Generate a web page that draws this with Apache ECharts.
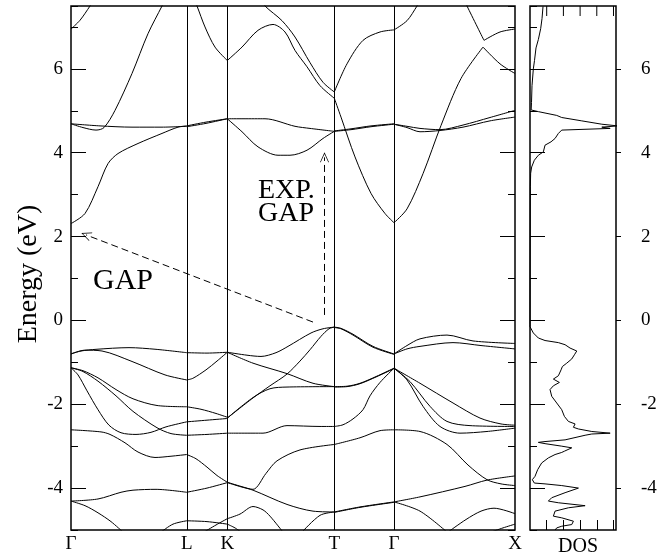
<!DOCTYPE html>
<html>
<head>
<meta charset="utf-8">
<script src="https://cdn.jsdelivr.net/npm/echarts@6/dist/echarts.min.js"></script>
<style>
html, body { margin: 0; padding: 0; background: #fff; }
#chart { width: 668px; height: 557px; }
</style>
</head>
<body>
<div id="chart"></div>
<script>
// symmetry points along the k-path
const symK = [0, 1.157, 1.563, 2.633, 3.23, 4.44];
const symNames = ['Γ', 'L', 'K', 'T', 'Γ', 'X'];
const energyTicks = [-4, -2, 0, 2, 4, 6];
const dosTicks = [1, 2, 3, 4, 5];

// bands, one array of curves per path segment, [k, E(eV)]
const bandsGL = [
    [[0, 6.95], [0.09, 7.16], [0.19, 7.5], [0.22, 7.62]],
    [[0, 2.31], [0.14, 2.55], [0.27, 3.19], [0.37, 3.74], [0.47, 3.98], [0.67, 4.22], [0.91, 4.46], [1.07, 4.61], [1.157, 4.64]],
    [[0, 4.69], [0.29, 4.64], [0.61, 4.61], [0.91, 4.61], [1.157, 4.63]],
    [[0, 4.69], [0.12, 4.6], [0.25, 4.54], [0.33, 4.6], [0.44, 5.01], [0.61, 5.89], [0.77, 6.84], [0.91, 7.5], [0.94, 7.65]],
    [[0, -0.8], [0.1, -0.73], [0.25, -0.69], [0.58, -0.65], [0.85, -0.69], [1.157, -0.77]],
    [[0, -0.8], [0.14, -0.71], [0.31, -0.73], [0.61, -0.98], [0.94, -1.3], [1.157, -1.42]],
    [[0, -1.13], [0.12, -1.2], [0.27, -1.37], [0.45, -1.65], [0.62, -1.87], [0.86, -2.03], [1.157, -2.06]],
    [[0, -1.13], [0.12, -1.22], [0.27, -1.45], [0.45, -1.8], [0.62, -2.17], [0.86, -2.56], [1.0, -2.7], [1.157, -2.74]],
    [[0, -1.13], [0.07, -1.3], [0.16, -1.68], [0.27, -2.13], [0.38, -2.5], [0.5, -2.68], [0.65, -2.72], [0.8, -2.67], [0.95, -2.54], [1.157, -2.42]],
    [[0, -2.61], [0.3, -2.66], [0.39, -2.72], [0.54, -2.92], [0.67, -3.14], [0.84, -3.27], [1.0, -3.24], [1.157, -3.2]],
    [[0, -4.31], [0.27, -4.26], [0.5, -4.1], [0.62, -4.05], [0.85, -4.03], [1.157, -4.1]],
    [[0, -4.31], [0.14, -4.42], [0.27, -4.59], [0.4, -4.8], [0.52, -5.05]],
    [[0.9, -5.05], [1.02, -4.86], [1.157, -4.78]]
];

const bandsLK = [
    [[1.157, 4.64], [1.35, 4.73], [1.563, 4.81]],
    [[1.157, 4.62], [1.35, 4.7], [1.563, 4.81]],
    [[1.24, 7.6], [1.26, 7.5], [1.34, 7.0], [1.44, 6.52], [1.563, 6.2]],
    [[1.157, -0.77], [1.36, -0.78], [1.563, -0.76]],
    [[1.157, -1.42], [1.22, -1.38], [1.35, -1.18], [1.46, -0.97], [1.563, -0.76]],
    [[1.157, -2.06], [1.3, -2.12], [1.45, -2.22], [1.563, -2.31]],
    [[1.157, -2.42], [1.36, -2.38], [1.563, -2.34]],
    [[1.157, -2.74], [1.36, -2.72], [1.563, -2.69]],
    [[1.157, -3.2], [1.25, -3.3], [1.36, -3.5], [1.46, -3.7], [1.563, -3.86]],
    [[1.157, -4.1], [1.36, -4.0], [1.563, -3.87]],
    [[1.157, -4.78], [1.36, -4.8], [1.563, -4.86]],
    [[1.33, -5.05], [1.45, -4.88], [1.563, -4.73]]
];

const bandsKT = [
    [[1.563, 6.2], [1.71, 6.52], [1.87, 6.92], [2.02, 7.06], [2.14, 6.88], [2.24, 6.44], [2.36, 6.05], [2.49, 5.6], [2.633, 5.3]],
    [[1.92, 7.62], [1.94, 7.5], [2.11, 7.15], [2.24, 6.76], [2.39, 6.15], [2.52, 5.68], [2.633, 5.45]],
    [[1.563, 4.81], [1.94, 4.81], [2.24, 4.63], [2.39, 4.58], [2.633, 4.51]],
    [[1.563, 4.81], [1.71, 4.5], [1.87, 4.14], [2.07, 3.94], [2.19, 3.94], [2.36, 4.06], [2.52, 4.34], [2.633, 4.51]],
    [[1.563, -0.76], [1.76, -0.83], [1.9, -0.86], [2.05, -0.77], [2.17, -0.62], [2.4, -0.3], [2.52, -0.2], [2.633, -0.16]],
    [[1.563, -0.76], [1.82, -1.02], [2.16, -1.27], [2.42, -1.5], [2.633, -1.58]],
    [[1.563, -2.33], [1.82, -1.85], [1.99, -1.56], [2.16, -1.28], [2.29, -0.97], [2.39, -0.7], [2.5, -0.38], [2.58, -0.2], [2.633, -0.16]],
    [[1.563, -2.33], [1.82, -1.84], [1.99, -1.63], [2.16, -1.59], [2.633, -1.58]],
    [[1.563, -2.69], [1.92, -2.69], [2.16, -2.51], [2.49, -2.53], [2.633, -2.53]],
    [[1.563, -3.86], [1.7, -3.96], [1.82, -4.03], [1.95, -3.65], [2.06, -3.35], [2.29, -3.09], [2.633, -2.96]],
    [[1.563, -3.87], [1.7, -3.97], [1.82, -4.05], [2.16, -4.39], [2.42, -4.55], [2.633, -4.57]],
    [[1.563, -4.73], [1.69, -4.62], [1.82, -4.44], [1.92, -4.52], [1.99, -4.67], [2.12, -5.05]],
    [[1.563, -4.86], [1.64, -4.95], [1.7, -5.05]],
    [[2.31, -5.05], [2.49, -4.65], [2.633, -4.57]]
];

const bandsTG = [
    [[2.633, 5.45], [2.76, 6.12], [2.92, 6.68], [3.09, 6.88], [3.23, 6.93]],
    [[2.633, 5.3], [2.7, 4.85], [2.84, 3.9], [3.0, 3.03], [3.14, 2.55], [3.23, 2.33]],
    [[2.633, 4.51], [2.8, 4.55], [3.0, 4.62], [3.23, 4.68]],
    [[2.633, 4.52], [2.8, 4.57], [3.0, 4.64], [3.23, 4.69]],
    [[2.633, -0.16], [2.7, -0.19], [2.82, -0.33], [3.02, -0.62], [3.23, -0.8]],
    [[2.633, -0.17], [2.7, -0.2], [2.82, -0.35], [3.02, -0.64], [3.23, -0.81]],
    [[2.633, -1.58], [2.76, -1.57], [2.89, -1.5], [3.05, -1.34], [3.23, -1.14]],
    [[2.633, -1.59], [2.76, -1.58], [2.89, -1.51], [3.05, -1.35], [3.23, -1.15]],
    [[2.633, -2.53], [2.72, -2.49], [2.82, -2.35], [2.92, -2.13], [2.99, -1.8], [3.09, -1.48], [3.23, -1.14]],
    [[2.633, -2.96], [2.89, -2.8], [3.09, -2.63], [3.23, -2.61]],
    [[2.633, -4.57], [2.89, -4.45], [3.23, -4.33]],
    [[2.633, -4.58], [2.89, -4.46], [3.23, -4.34]]
];

const bandsGX = [
    [[3.23, 6.93], [3.36, 7.15], [3.46, 7.5], [3.48, 7.6]],
    [[3.23, 2.33], [3.36, 2.66], [3.52, 3.5], [3.7, 4.65], [3.9, 5.77], [4.12, 6.52]],
    [[4.12, 6.52], [4.29, 6.12], [4.44, 5.89]],
    [[3.95, 7.56], [3.96, 7.5], [4.13, 6.68]],
    [[4.13, 6.68], [4.29, 6.88], [4.44, 6.95]],
    [[3.23, 4.68], [3.36, 4.63], [3.49, 4.58], [3.69, 4.55], [3.92, 4.66], [4.19, 4.84], [4.44, 5.01]],
    [[3.23, 4.68], [3.36, 4.6], [3.49, 4.5], [3.69, 4.53], [3.92, 4.61], [4.19, 4.76], [4.44, 4.85]],
    [[3.23, -0.8], [3.36, -0.6], [3.49, -0.44], [3.76, -0.35], [4.02, -0.49], [4.44, -0.55]],
    [[3.23, -0.8], [3.36, -0.68], [3.49, -0.62], [3.82, -0.53], [4.1, -0.6], [4.44, -0.68]],
    [[3.23, -1.14], [3.49, -1.5], [3.82, -1.97], [4.09, -2.33], [4.3, -2.47], [4.44, -2.5]],
    [[3.23, -1.14], [3.39, -1.46], [3.59, -2.05], [3.76, -2.41], [3.99, -2.51], [4.44, -2.53]],
    [[3.23, -1.14], [3.36, -1.42], [3.52, -2.05], [3.69, -2.53], [3.89, -2.69], [4.16, -2.65], [4.44, -2.57]],
    [[3.23, -2.61], [3.49, -2.65], [3.76, -2.96], [3.97, -3.45], [4.16, -3.8], [4.3, -3.9], [4.44, -3.94]],
    [[3.23, -4.33], [3.49, -4.21], [3.94, -3.96], [4.16, -3.81], [4.44, -3.71]],
    [[3.23, -4.33], [3.49, -4.55], [3.76, -5.05]],
    [[3.77, -5.05], [3.95, -4.75], [4.1, -4.55], [4.23, -4.48], [4.44, -4.61]],
    [[4.2, -5.05], [4.32, -4.95], [4.44, -4.86]]
];

// density of states (arb. units) vs energy
const dosEnergy = [7.49, 7.2, 6.96, 6.7, 6.5, 6.2, 6.0, 5.6, 5.2, 5.02, 4.98, 4.89, 4.84, 4.76, 4.68, 4.64, 4.61, 4.58, 4.54, 4.46,
    4.34, 4.26, 4.18, 4.02, 3.94, 3.82, 3.66, 3.51, 3.2, -0.1, -0.15, -0.30, -0.42, -0.48, -0.53, -0.58, -0.66, -0.73, -0.82, -0.92,
    -1.02, -1.10, -1.18, -1.32, -1.40, -1.48, -1.56, -1.65, -1.81, -1.97, -2.13, -2.29, -2.41, -2.47, -2.55, -2.59, -2.65, -2.69, -2.71, -2.74,
    -2.85, -2.89, -2.91, -2.94, -3.0, -3.04, -3.12, -3.15, -3.20, -3.28, -3.40, -3.56, -3.72, -3.80, -3.88, -3.90, -3.94, -4.0, -4.11, -4.23,
    -4.31, -4.35, -4.42, -4.47, -4.55, -4.67, -4.71, -4.79, -4.87, -4.91, -4.95, -5.0];
const dosValue = [0.78, 0.72, 0.64, 0.5, 0.36, 0.27, 0.2, 0.12, 0.09, 0.07, 0.5, 1.6, 1.9, 3.1, 4.3, 5.25, 4.3, 4.8, 1.9, 1.7,
    1.5, 1.26, 0.9, 0.8, 0.5, 0.26, 0.1, 0.04, 0.02, 0.0, 0.0, 0.2, 0.5, 0.9, 1.7, 2.1, 2.4, 2.8, 2.66, 2.5,
    2.2, 1.94, 1.86, 1.7, 1.4, 1.76, 1.4, 1.2, 1.3, 1.6, 1.9, 2.06, 2.3, 2.7, 2.6, 2.9, 3.7, 4.8, 3.7, 3.3,
    2.1, 0.9, 0.5, 0.9, 1.9, 2.5, 2.06, 1.9, 1.5, 1.1, 0.7, 0.46, 0.3, 0.14, 0.26, 0.9, 1.9, 2.9, 2.1, 1.3,
    1.1, 1.7, 3.3, 2.3, 1.5, 1.4, 1.9, 2.6, 2.5, 1.9, 1.6, 1.5];

// annotation arrows [start, end] in (k, E)
const gapArrow = [[2.42, -0.04], [0.15, 2.04]];
const expGapArrow = [[2.535, 0.13], [2.535, 3.89]];

const eMin = -5;
const eMax = 7.5;
const serif = '"Liberation Serif", "DejaVu Serif", serif';
const chevron = 'path://M0,0L-5,10L-4.2,10L0,1.6L4.2,10L5,10Z';

let chart = echarts.init(document.getElementById('chart'));

function bandSeries(curves) {
    return curves.map(function (pts) {
        return {
            type: 'line',
            xAxisIndex: 0,
            yAxisIndex: 0,
            data: pts,
            smooth: 0.3,
            showSymbol: false,
            silent: true,
            lineStyle: { color: '#000', width: 1 }
        };
    });
}

function tickAxis(gridIndex, position, inside, length, values) {
    let ax = {
        gridIndex: gridIndex,
        type: 'value',
        position: position,
        offset: 0,
        min: eMin,
        max: eMax,
        axisLine: { show: false, onZero: false },
        splitLine: { show: false },
        axisTick: { show: true, inside: inside, length: length, lineStyle: { color: '#000', width: 1 } },
        axisLabel: { show: false }
    };
    if (values) {
        ax.axisTick.customValues = values;
    } else {
        ax.interval = 1;
    }
    return ax;
}

let bands = [].concat(
    bandSeries(bandsGL), bandSeries(bandsLK), bandSeries(bandsKT),
    bandSeries(bandsTG), bandSeries(bandsGX)
);

// vertical lines at the symmetry points
bands[0].markLine = {
    silent: true,
    symbol: 'none',
    animation: false,
    label: { show: false },
    lineStyle: { color: '#000', width: 1, type: 'solid' },
    data: symK.slice(1, 5).map(function (k) { return { xAxis: k }; })
};
// dashed gap arrows
bands[1].markLine = {
    silent: true,
    symbol: ['none', chevron],
    symbolSize: [9, 10],
    animation: false,
    label: { show: false },
    lineStyle: { color: '#000', width: 1, type: [7, 4] },
    data: [
        [{ coord: gapArrow[0] }, { coord: gapArrow[1] }],
        [{ coord: expGapArrow[0] }, { coord: expGapArrow[1] }]
    ]
};

let dosSeries = {
    type: 'line',
    xAxisIndex: 1,
    yAxisIndex: 4,
    data: dosValue.map(function (v, i) { return [v, dosEnergy[i]]; }),
    showSymbol: false,
    clip: false,
    silent: true,
    lineStyle: { color: '#000', width: 1 }
};

let labelRight = tickAxis(1, 'right', false, 5, energyTicks);
labelRight.axisLabel = {
    show: true, customValues: energyTicks, margin: 25,
    color: '#000', fontFamily: serif, fontSize: 19
};
let labelLeft = tickAxis(0, 'left', true, 15, energyTicks);
labelLeft.axisLabel = {
    show: true, customValues: energyTicks, margin: 8,
    color: '#000', fontFamily: serif, fontSize: 19
};

function textEl(id, x, y, text, size, extra) {
    let el = {
        type: 'text', id: id, x: x, y: y, z: 50,
        style: { text: text, fontSize: size, fontFamily: serif, fill: '#000', align: 'left', verticalAlign: 'middle' }
    };
    return Object.assign(el, extra || {});
}

let energyName = textEl('energyName', 29, 274, 'Energy (eV)', 28, { rotation: Math.PI / 2 });
energyName.style.align = 'center';
let dosName = textEl('dosName', 578, 547, 'DOS', 20);
dosName.style.align = 'center';

let option = {
    animation: false,
    backgroundColor: '#fff',
    grid: [
        { left: 71, top: 6, width: 444, height: 524, show: true, borderColor: '#000', borderWidth: 1.5 },
        { left: 530, top: 6, width: 86, height: 524, show: true, borderColor: '#000', borderWidth: 1.5 }
    ],
    xAxis: [
        {
            gridIndex: 0,
            type: 'value',
            position: 'bottom',
            min: 0,
            max: 4.44,
            axisLine: { show: false, onZero: false },
            axisTick: { show: false },
            splitLine: { show: false },
            axisLabel: {
                customValues: symK,
                formatter: function (v) { return symNames[symK.indexOf(v)]; },
                color: '#000',
                fontFamily: serif,
                fontSize: 19,
                margin: 5
            }
        },
        {
            gridIndex: 1,
            type: 'value',
            position: 'bottom',
            min: 0,
            max: 5.15,
            axisLine: { show: false, onZero: false },
            splitLine: { show: false },
            axisTick: { show: true, inside: true, length: 10, customValues: dosTicks, lineStyle: { color: '#000' } },
            axisLabel: { show: false }
        }
    ],
    yAxis: [
        tickAxis(0, 'left', true, 7),
        labelLeft,
        tickAxis(0, 'right', true, 7),
        tickAxis(0, 'right', true, 15, energyTicks),
        tickAxis(1, 'left', true, 7),
        tickAxis(1, 'left', true, 15, energyTicks),
        labelRight
    ],
    graphic: [
        energyName,
        textEl('gap', 93, 281, 'GAP', 30),
        textEl('expGap1', 258, 191, 'EXP.', 28),
        textEl('expGap2', 258, 214, 'GAP', 28),
        dosName
    ],
    series: bands.concat([dosSeries])
};

chart.setOption(option);

// top-edge ticks of the DOS panel, placed through the DOS axis scale
let topTicks = dosTicks.map(function (t, i) {
    let p = chart.convertToPixel({ xAxisIndex: 1, yAxisIndex: 4 }, [t, eMax]);
    return {
        type: 'line', id: 'dosTop' + i, z: 100, silent: true,
        shape: { x1: p[0], y1: p[1], x2: p[0], y2: p[1] + 10 },
        style: { stroke: '#000', lineWidth: 1 }
    };
});
chart.setOption({ graphic: topTicks });
</script>
</body>
</html>
